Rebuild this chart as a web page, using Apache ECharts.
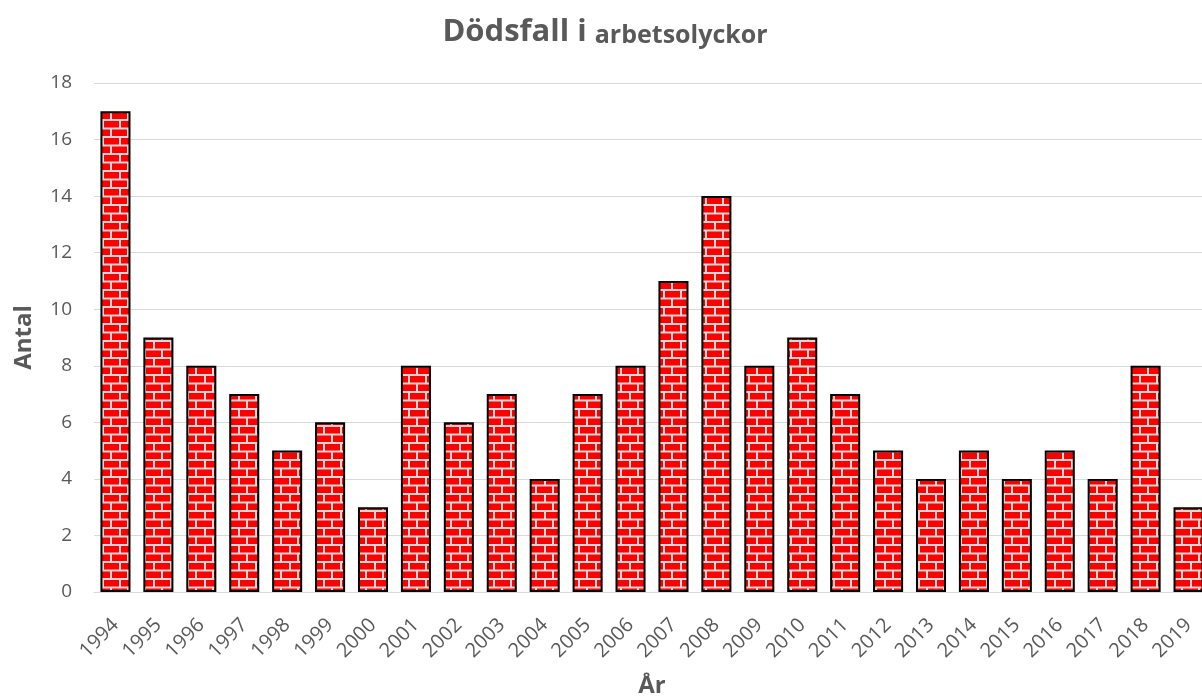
<!DOCTYPE html>
<html>
<head>
<meta charset="utf-8">
<script src="https://cdn.jsdelivr.net/npm/echarts@6/dist/echarts.min.js"></script>
<style>
  html, body { margin: 0; padding: 0; background: #fff; overflow: hidden; }
  #main { width: 1210px; height: 699px; }
</style>
</head>
<body>
<div id="main"></div>
<script>
var years = ['1994', '1995', '1996', '1997', '1998', '1999', '2000', '2001', '2002', '2003',
  '2004', '2005', '2006', '2007', '2008', '2009', '2010', '2011', '2012', '2013',
  '2014', '2015', '2016', '2017', '2018', '2019'];
var deaths = [17, 9, 8, 7, 5, 6, 3, 8, 6, 7, 4, 7, 8, 11, 14, 8, 9, 7, 5, 4, 5, 4, 5, 4, 8, 3];

// brick tile for the bar fill
function brickTile() {
  var c = document.createElement('canvas');
  c.width = 17;
  c.height = 17;
  var g = c.getContext('2d');
  g.fillStyle = '#d9d9d9';
  g.fillRect(0, 0, 17, 17);
  g.fillStyle = '#ff0000';
  // row 1
  g.fillRect(2, 2, 15, 6.5);
  // row 2, shifted half a brick
  g.fillRect(0, 10.5, 8, 6.5);
  g.fillRect(10, 10.5, 7, 6.5);
  return c;
}

var chart = echarts.init(document.getElementById('main'));
var option = {
  animation: false,
  title: {
    text: '{a|Dödsfall i }{b|arbetsolyckor}',
    left: 'center',
    top: 12,
    textStyle: {
      rich: {
        a: { fontFamily: 'Open Sans', fontWeight: 'bold', fontSize: 31, color: '#595959' },
        b: { fontFamily: 'Open Sans', fontWeight: 'bold', fontSize: 25, color: '#595959', padding: [6, 0, 0, 0] }
      }
    }
  },
  grid: {
    left: 94,
    right: 0,
    top: 83,
    bottom: 107,
    outerBoundsMode: 'none'
  },
  xAxis: {
    type: 'category',
    data: years,
    name: 'År',
    nameLocation: 'middle',
    nameGap: 82,
    nameTextStyle: { fontFamily: 'Open Sans', fontWeight: 'bold', fontSize: 24, color: '#595959' },
    axisLine: { lineStyle: { color: '#d9d9d9', width: 1 } },
    axisTick: { show: false },
    axisLabel: {
      rotate: 45,
      interval: 0,
      fontFamily: 'Open Sans',
      fontSize: 20,
      color: '#595959',
      margin: 30
    }
  },
  yAxis: {
    type: 'value',
    min: 0,
    max: 18,
    interval: 2,
    name: 'Antal',
    nameLocation: 'middle',
    nameGap: 58,
    nameTextStyle: { fontFamily: 'Open Sans', fontWeight: 'bold', fontSize: 24, color: '#595959' },
    axisLine: { show: false },
    axisTick: { show: false },
    splitLine: { lineStyle: { color: '#d9d9d9', width: 1 } },
    axisLabel: {
      fontFamily: 'Open Sans',
      fontSize: 19,
      color: '#595959',
      margin: 22
    }
  },
  series: [{
    type: 'bar',
    data: deaths,
    barCategoryGap: '30%',
    itemStyle: {
      color: { image: brickTile(), repeat: 'repeat' },
      borderColor: '#000000',
      borderWidth: 2
    }
  }]
};
chart.setOption(option);
</script>
</body>
</html>
